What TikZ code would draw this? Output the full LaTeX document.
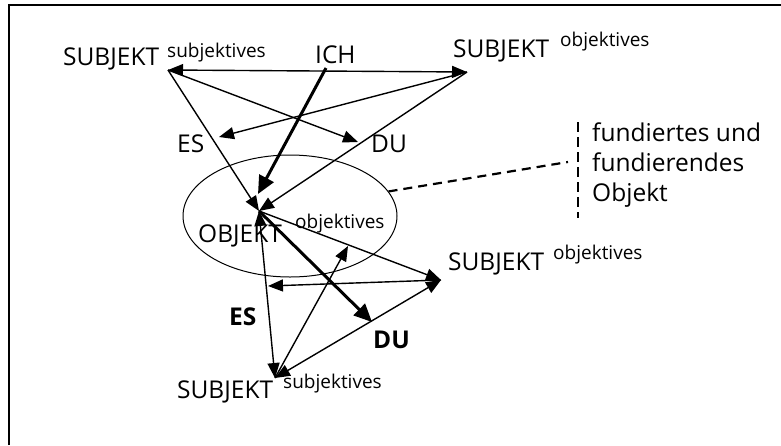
\documentclass[tikz,border=0pt]{standalone}
\usepackage{fontspec}
\setmainfont{Open Sans}
\usetikzlibrary{arrows.meta,shapes.geometric,positioning}
\tikzset{
    word/.style = {
        anchor=base west,
        inner sep=0pt,
        font=\fontsize{24.5}{29}\selectfont,
        },
    sup word/.style = {
        anchor=base west,
        inner sep=0pt,
        font=\fontsize{19}{23}\selectfont,
        },
    bold word/.style = {
        word,
        font=\fontsize{24.5}{29}\selectfont\bfseries,
        },
    rel/.style = {
        draw,
        line width=1.4pt,
        -{Triangle[length=15pt,width=12pt]},
        },
    rel both/.style = {
        draw,
        line width=1.4pt,
        {Triangle[length=15pt,width=12pt]}-{Triangle[length=15pt,width=12pt]},
        },
    strong rel/.style = {
        draw,
        line width=3pt,
        -{Triangle[length=18pt,width=16pt]},
        },
    note line/.style = {
        line width=2.2pt,
        dash pattern=on 9pt off 6pt,
        },
}
\begin{document}
\begin{tikzpicture}[x=1pt,y=-1pt]
            \useasboundingbox (0,0) rectangle (781,445);
            \draw[line width=2.5pt] (9,445) -- (9,5) -- (781,5);

            % points
            \coordinate (ss1) at (168,70);
            \coordinate (so1) at (467,72);
            \coordinate (ich) at (326,68);
            \coordinate (es1) at (219,137);
            \coordinate (du1) at (358,142);
            \coordinate (obj) at (259,211);
            \coordinate (objtip) at (258,194);
            \coordinate (so2) at (441,280);
            \coordinate (ss2) at (275,378);
            \coordinate (es2) at (268,286);
            \coordinate (objv) at (348,246);
            \coordinate (du2) at (372,322);

            % labels
            \node[word] (ss1 text) at (63,65) {SUBJEKT};
            \node[sup word] (ss1 sup) at (167,57) {subjektives};
            \node[word] (ich text) at (315,63) {ICH};
            \node[word] (so1 text) at (453,57) {SUBJEKT};
            \node[sup word] (so1 sup) at (560,46) {objektives};
            \node[word] (es1 text) at (177,152) {ES};
            \node[word] (du1 text) at (371,152) {DU};
            \node[word] (obj text) at (198,242) {OBJEKT};
            \node[sup word] (obj sup) at (295,228) {objektives};
            \node[word] (so2 text) at (448,270) {SUBJEKT};
            \node[sup word] (so2 sup) at (553,259) {objektives};
            \node[bold word] (es2 text) at (229,325) {ES};
            \node[bold word] (du2 text) at (373,348) {DU};
            \node[word] (ss2 text) at (177,398) {SUBJEKT};
            \node[sup word] (ss2 sup) at (283,388) {subjektives};
            \node[word, anchor=north west, align=left, font=\fontsize{24.5}{30}\selectfont] (note) at (592,123)
                {fundiertes und\\fundierendes\\Objekt};

            \node[draw, ellipse, line width=1pt, minimum width=214pt, minimum height=122pt,
                inner sep=0pt] (ell) at (290,216) {};

            % upper relations
            \path (ss1) edge[rel both] (so1);
            \path (ss1) edge[rel] (du1);
            \path (so1) edge[rel] (es1);
            \path (ss1) edge[rel] (obj);
            \path (so1) edge[rel] (obj);
            \path (ich) edge[strong rel] (objtip);

            % lower relations
            \path (obj) edge[rel] (so2);
            \path (obj) edge[rel both] (ss2);
            \path (so2) edge[rel] (es2);
            \path (ss2) edge[rel] (objv);
            \path (ss2) edge[rel both] (so2);
            \path (obj) edge[strong rel] (du2);

            % note
            \coordinate (bar top) at (578,122);
            \coordinate (bar bottom) at (578,218);
            \coordinate (bar hook) at (568,162);
            \draw[note line] (ell.14) -- (bar hook);
            \draw[line width=2.4pt, dash pattern=on 10pt off 5pt] (bar top) -- (bar bottom);
        \end{tikzpicture}
\end{document}
